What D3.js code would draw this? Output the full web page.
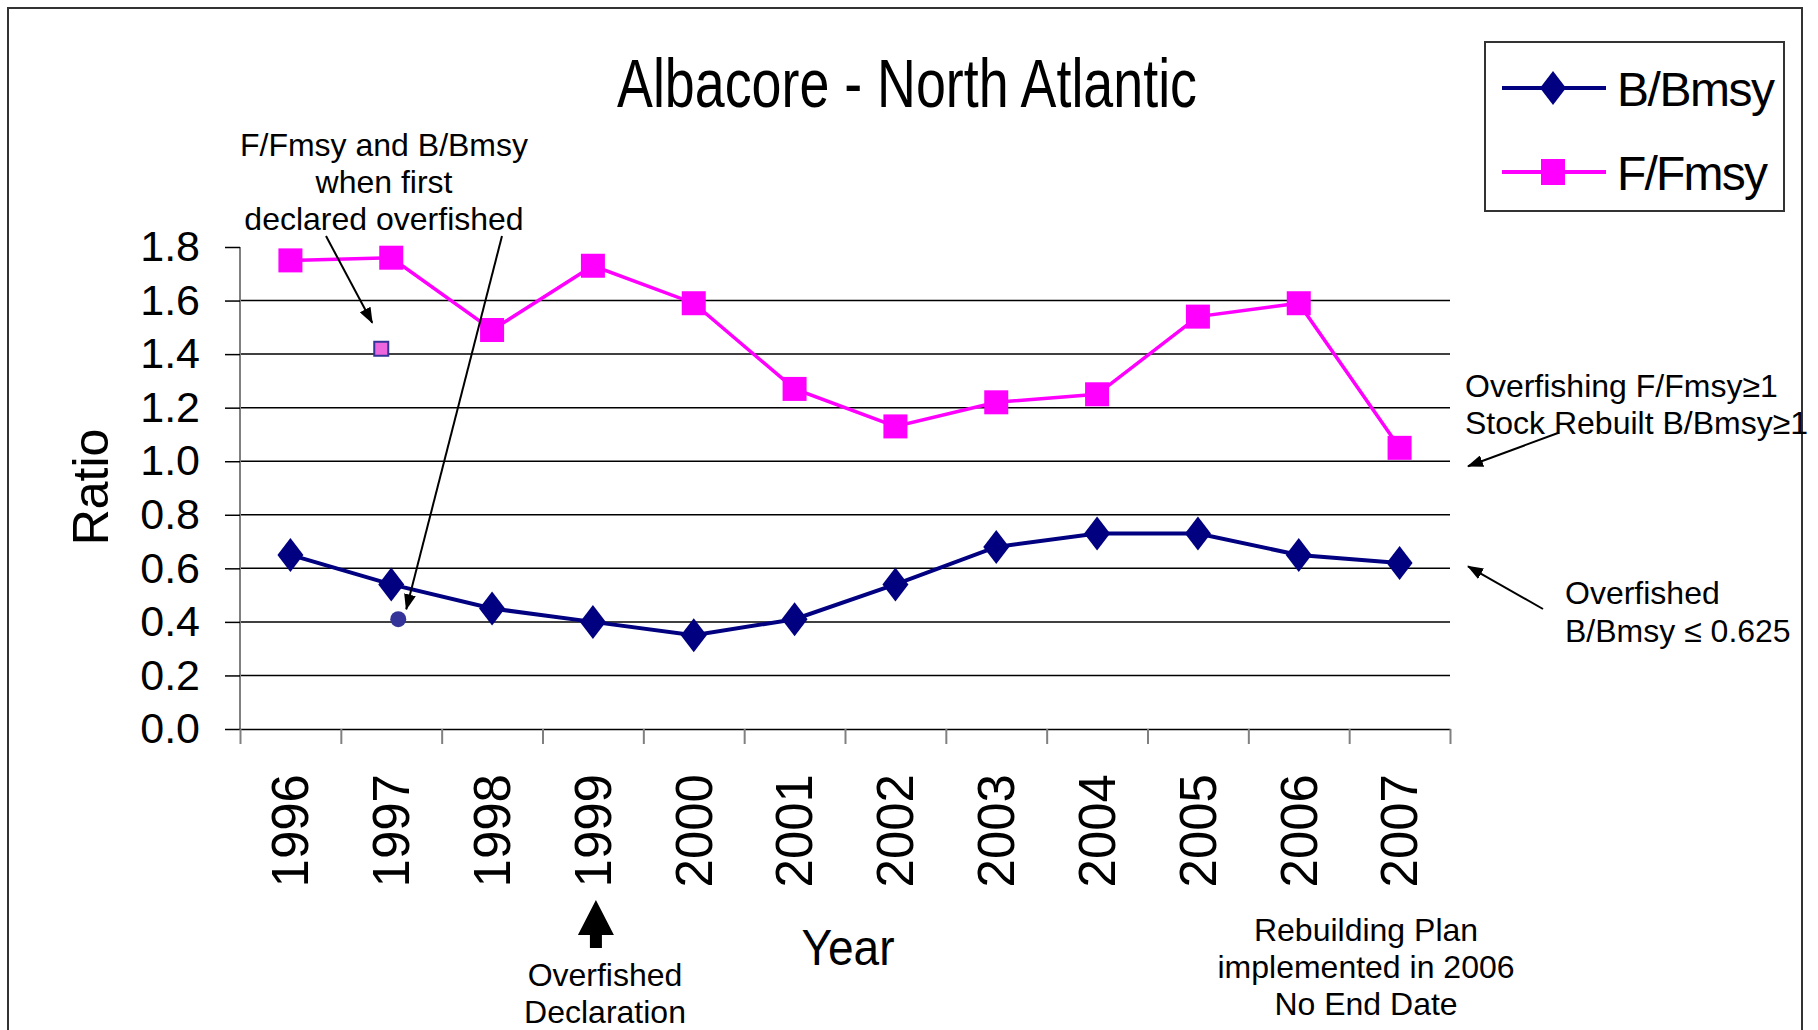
<!DOCTYPE html>
<html>
<head>
<meta charset="utf-8">
<script src="https://cdn.jsdelivr.net/npm/d3@7"></script>
<style>
  body { margin: 0; background: #fff; }
</style>
</head>
<body>
<div id="chart"></div>
<script>
// Data
const years = [1996, 1997, 1998, 1999, 2000, 2001, 2002, 2003, 2004, 2005, 2006, 2007];
const bBmsy = [0.65, 0.54, 0.45, 0.40, 0.35, 0.41, 0.54, 0.68, 0.73, 0.73, 0.65, 0.62];
const fFmsy = [1.75, 1.76, 1.49, 1.73, 1.59, 1.27, 1.13, 1.22, 1.25, 1.54, 1.59, 1.05];
const yTicks = [0, 0.2, 0.4, 0.6, 0.8, 1.0, 1.2, 1.4, 1.6, 1.8];
// values when the stock was first declared overfished (1997)
const firstYear = 1997;
const firstF = 1.42;
const firstB = 0.41;

// Dimensions
const width = 1818;
const height = 1030;
const plot = { left: 240, right: 1450, top: 247, bottom: 729 };
const font = "'Liberation Sans', Arial, sans-serif";

const navy = "#000080";
const pink = "#FF00FF";

const svg = d3.select("#chart")
  .append("svg")
  .attr("width", width)
  .attr("height", height)
  .style("font-family", font)
  .style("background-color", "#fff");

// Arrow head marker
svg.append("defs").append("marker")
  .attr("id", "head")
  .attr("viewBox", "0 0 16 12")
  .attr("markerWidth", 16)
  .attr("markerHeight", 12)
  .attr("markerUnits", "userSpaceOnUse")
  .attr("refX", 15)
  .attr("refY", 6)
  .attr("orient", "auto")
  .append("path")
  .attr("d", "M0,0 L16,6 L0,12 Z")
  .attr("fill", "#000");

// Outer frame
svg.append("rect")
  .attr("x", 8)
  .attr("y", 8)
  .attr("width", 1794)
  .attr("height", 1100)
  .attr("fill", "none")
  .attr("stroke", "#333")
  .attr("stroke-width", 2);

// Scales: one band per year, centred points
const x = d3.scaleLinear()
  .domain([years[0] - 0.5, years[years.length - 1] + 0.5])
  .range([plot.left, plot.right]);

const y = d3.scaleLinear()
  .domain([0, 1.8])
  .range([plot.bottom, plot.top]);

// Gridlines (0.2 .. 1.6)
svg.append("g")
  .selectAll("line")
  .data(yTicks.filter(d => d > 0 && d < 1.8))
  .join("line")
  .attr("x1", plot.left)
  .attr("x2", plot.right)
  .attr("y1", d => y(d))
  .attr("y2", d => y(d))
  .attr("stroke", "#000")
  .attr("stroke-width", 1.5);

// Y axis
const yAxis = svg.append("g")
  .attr("transform", `translate(${plot.left},0)`)
  .call(d3.axisLeft(y)
    .tickValues(yTicks)
    .tickFormat(d3.format(".1f"))
    .tickSize(15)
    .tickPadding(25));

yAxis.select(".domain")
  .attr("stroke", "#808080")
  .attr("stroke-width", 2)
  .attr("d", `M0,${plot.top}V${plot.bottom}`);

yAxis.selectAll(".tick line").attr("stroke", "#000").attr("stroke-width", 1.5);
yAxis.selectAll(".tick text")
  .style("font-family", font)
  .style("font-size", "43px")
  .attr("fill", "#000");

// X axis line and boundary ticks
const xAxis = svg.append("g")
  .attr("transform", `translate(0,${plot.bottom})`)
  .call(d3.axisBottom(x)
    .tickValues(d3.range(years.length + 1).map(i => years[0] - 0.5 + i))
    .tickFormat("")
    .tickSize(15)
    .tickSizeOuter(0));

xAxis.select(".domain").attr("stroke", "#000").attr("stroke-width", 1.5);
xAxis.selectAll(".tick line").attr("stroke", "#808080").attr("stroke-width", 2);

// Rotated year labels
svg.append("g")
  .selectAll("text")
  .data(years)
  .join("text")
  .attr("transform", d => `translate(${x(d)},774) rotate(-90)`)
  .attr("text-anchor", "end")
  .attr("dy", "0.35em")
  .style("font-size", "51px")
  .text(d => d);

// Axis titles
svg.append("text")
  .attr("transform", "translate(90,487) rotate(-90)")
  .attr("text-anchor", "middle")
  .attr("dy", "0.35em")
  .style("font-size", "50px")
  .text("Ratio");

svg.append("text")
  .attr("x", 848)
  .attr("y", 965)
  .attr("text-anchor", "middle")
  .attr("textLength", 93)
  .attr("lengthAdjust", "spacingAndGlyphs")
  .style("font-size", "50px")
  .text("Year");

// Title (condensed like the original)
svg.append("text")
  .attr("x", 907)
  .attr("y", 107)
  .attr("text-anchor", "middle")
  .attr("textLength", 580)
  .attr("lengthAdjust", "spacingAndGlyphs")
  .style("font-size", "68px")
  .text("Albacore - North Atlantic");

// Lines
const line = d3.line()
  .x(d => x(d[0]))
  .y(d => y(d[1]));

const fData = years.map((yr, i) => [yr, fFmsy[i]]);
const bData = years.map((yr, i) => [yr, bBmsy[i]]);

svg.append("path")
  .datum(fData)
  .attr("d", line)
  .attr("fill", "none")
  .attr("stroke", pink)
  .attr("stroke-width", 3.5);

svg.append("path")
  .datum(bData)
  .attr("d", line)
  .attr("fill", "none")
  .attr("stroke", navy)
  .attr("stroke-width", 4);

const diamond = "M0,-17 L13,0 L0,17 L-13,0 Z";

svg.append("g")
  .selectAll("rect")
  .data(fData)
  .join("rect")
  .attr("x", d => x(d[0]) - 12)
  .attr("y", d => y(d[1]) - 12)
  .attr("width", 24)
  .attr("height", 24)
  .attr("fill", pink);

svg.append("g")
  .selectAll("path")
  .data(bData)
  .join("path")
  .attr("transform", d => `translate(${x(d[0])},${y(d[1])})`)
  .attr("d", diamond)
  .attr("fill", navy);

// First-declared markers (slightly offset from the 1997 points)
svg.append("rect")
  .attr("x", x(firstYear) - 10 - 7)
  .attr("y", y(firstF) - 7)
  .attr("width", 14)
  .attr("height", 14)
  .attr("fill", "#EE66DD")
  .attr("stroke", "#333399")
  .attr("stroke-width", 2);

svg.append("circle")
  .attr("cx", x(firstYear) + 7)
  .attr("cy", y(firstB))
  .attr("r", 8)
  .attr("fill", "#333399");

// Annotation helper
function multiline(lines, xPos, yPos, anchor, lineHeight) {
  svg.append("text")
    .attr("text-anchor", anchor)
    .style("font-size", "32px")
    .selectAll("tspan")
    .data(lines)
    .join("tspan")
    .attr("x", xPos)
    .attr("y", (_, i) => yPos + i * lineHeight)
    .text(d => d);
}

function arrow(x1, y1, x2, y2) {
  svg.append("line")
    .attr("x1", x1).attr("y1", y1)
    .attr("x2", x2).attr("y2", y2)
    .attr("stroke", "#000")
    .attr("stroke-width", 2)
    .attr("marker-end", "url(#head)");
}

multiline(["F/Fmsy and B/Bmsy", "when first", "declared overfished"], 384, 156, "middle", 37);
arrow(326, 236, x(firstYear) - 19, y(firstF) - 26);
arrow(502, 236, x(firstYear) + 15, y(firstB) - 10);

multiline(["Overfishing F/Fmsy\u22651", "Stock Rebuilt B/Bmsy\u22651"], 1465, 397, "start", 37);
arrow(1558, 433, plot.right + 18, y(1.0) + 5);

multiline(["Overfished", "B/Bmsy \u2264 0.625"], 1565, 604, "start", 38);
arrow(1543, 609, plot.right + 18, y(0.6) - 2);

multiline(["Rebuilding Plan", "implemented in 2006", "No End Date"], 1366, 941, "middle", 37);

multiline(["Overfished", "Declaration"], 605, 986, "middle", 37);

// Block arrow under 1999
const ax = x(1999) + 3;
svg.append("path")
  .attr("d", `M${ax},900 L${ax + 18},935 L${ax + 6},935 L${ax + 6},948 L${ax - 6},948 L${ax - 6},935 L${ax - 18},935 Z`)
  .attr("fill", "#000");

// Legend
const legend = svg.append("g");

legend.append("rect")
  .attr("x", 1485)
  .attr("y", 42)
  .attr("width", 299)
  .attr("height", 169)
  .attr("fill", "#fff")
  .attr("stroke", "#333")
  .attr("stroke-width", 2);

const legendItems = [
  { name: "B/Bmsy", color: navy, shape: "diamond", y: 88 },
  { name: "F/Fmsy", color: pink, shape: "square", y: 172 }
];

legendItems.forEach(item => {
  legend.append("line")
    .attr("x1", 1502)
    .attr("x2", 1606)
    .attr("y1", item.y)
    .attr("y2", item.y)
    .attr("stroke", item.color)
    .attr("stroke-width", 4);

  if (item.shape === "diamond") {
    legend.append("path")
      .attr("transform", `translate(1553,${item.y})`)
      .attr("d", diamond)
      .attr("fill", item.color);
  } else {
    legend.append("rect")
      .attr("x", 1541)
      .attr("y", item.y - 13)
      .attr("width", 24)
      .attr("height", 26)
      .attr("fill", item.color);
  }

  legend.append("text")
    .attr("x", 1617)
    .attr("y", item.y + 18)
    .attr("textLength", item.name === "B/Bmsy" ? 158 : 151)
    .attr("lengthAdjust", "spacing")
    .style("font-size", "48px")
    .text(item.name);
});
</script>
</body>
</html>
